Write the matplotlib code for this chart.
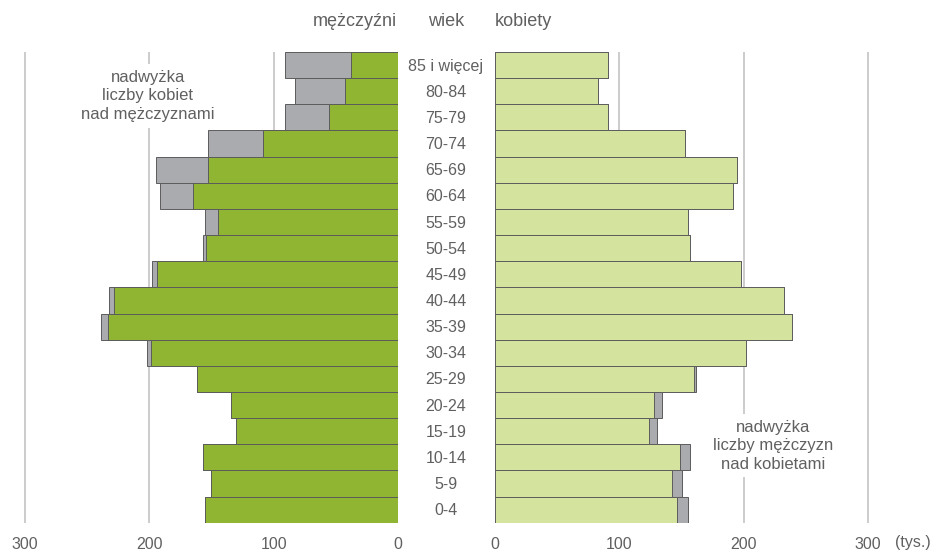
"""
Population pyramid: men vs women by age group (thousands).
"""

import matplotlib
matplotlib.use("Agg")
import matplotlib.pyplot as plt
import matplotlib.transforms as mtransforms
import numpy as np

# Data (thousands), youngest first
age_groups = ["0-4", "5-9", "10-14", "15-19", "20-24", "25-29", "30-34",
              "35-39", "40-44", "45-49", "50-54", "55-59", "60-64",
              "65-69", "70-74", "75-79", "80-84", "85 i więcej"]
men = [155, 150.5, 157, 130, 134, 161.5, 198.5, 233.5, 228, 194,
       154, 145, 165, 153, 108.5, 55.5, 42.5, 38]
women = [146, 142, 148.5, 123.5, 127.5, 160, 201.5, 239, 232, 197.5,
         157, 155.5, 191.5, 194.5, 152.5, 90.5, 82.5, 90.5]
ticks = [0, 100, 200, 300]

DARK_GREEN = "#8fb532"
LIGHT_GREEN = "#d4e39d"
GREY = "#a9abae"
EDGE = "#5c5c5c"
TEXT = "#606060"
GRID = "#c8c8c8"

plt.rcParams["font.family"] = ["Liberation Sans", "DejaVu Sans"]

fig = plt.figure(figsize=(9.35, 5.51), dpi=100)
W, H = 935, 551
top_px, bottom_px = 52, 522.7
ax_b = (H - bottom_px) / H
ax_h = (bottom_px - top_px) / H
xmax = 310
scale = 1.244  # px per unit
ax_w = xmax * scale / W

ax_l = fig.add_axes([(398 - xmax * scale) / W, ax_b, ax_w, ax_h])
ax_r = fig.add_axes([495 / W, ax_b, ax_w, ax_h])

y = np.arange(len(age_groups))
men_arr = np.array(men)
women_arr = np.array(women)
bigger = np.maximum(men_arr, women_arr)

# Men (left side): grey shows female surplus
ax_l.barh(y, bigger, height=1.0, color=GREY, edgecolor=EDGE, linewidth=0.7, zorder=2)
ax_l.barh(y, men_arr, height=1.0, color=DARK_GREEN, edgecolor=EDGE, linewidth=0.7, zorder=3)
# Women (right side): grey shows male surplus
ax_r.barh(y, bigger, height=1.0, color=GREY, edgecolor=EDGE, linewidth=0.7, zorder=2)
ax_r.barh(y, women_arr, height=1.0, color=LIGHT_GREEN, edgecolor=EDGE, linewidth=0.7, zorder=3)

for ax in (ax_l, ax_r):
    ax.set_ylim(-0.5, len(age_groups) - 0.5)
    ax.set_xlim(0, xmax)
    ax.set_yticks([])
    ax.set_xticks(ticks)
    ax.tick_params(axis="x", length=0, pad=10, labelsize=11.5, labelcolor=TEXT)
    for spine in ax.spines.values():
        spine.set_visible(False)
    for t in ticks[1:]:
        ax.axvline(t, color=GRID, linewidth=1.3, zorder=0)

ax_l.invert_xaxis()

# Age labels in the middle (figure x, data y)
mid = mtransforms.blended_transform_factory(fig.transFigure, ax_l.transData)
for i, label in enumerate(age_groups):
    fig.text(446 / W, y[i] - 0.04, label, transform=mid, ha="center", va="center",
             fontsize=11.5, color=TEXT)

# Headers
hdr_y = 1 - 21 / H
fig.text(397 / W, hdr_y, "mężczyźni", ha="right", va="center", fontsize=13, color=TEXT)
fig.text(446 / W, hdr_y, "wiek", ha="center", va="center", fontsize=13, color=TEXT)
fig.text(495 / W, hdr_y, "kobiety", ha="left", va="center", fontsize=13, color=TEXT)
fig.text(913 / W, 1 - 543 / H, "(tys.)", ha="center", va="center", fontsize=11.5, color=TEXT)

# Annotations
box = dict(facecolor="white", edgecolor="none", pad=4)
ax_l.text(201, 15.82, "nadwyżka\nliczby kobiet\nnad mężczyznami", ha="center", va="center",
          fontsize=12, color=TEXT, linespacing=1.3, bbox=box, zorder=1)
ax_r.text(223.5, 2.44, "nadwyżka\nliczby mężczyzn\nnad kobietami", ha="center", va="center",
          fontsize=12, color=TEXT, linespacing=1.3, bbox=box, zorder=1)

fig.savefig("out.png", dpi=100, facecolor="white")
